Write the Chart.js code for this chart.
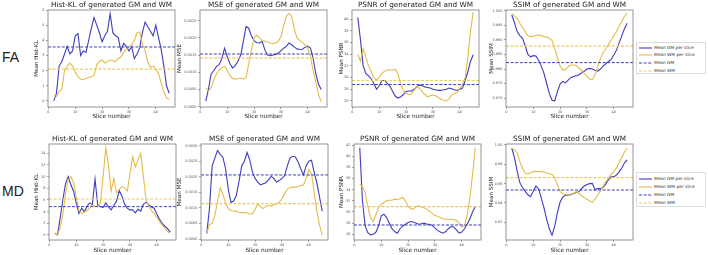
<!DOCTYPE html>
<html>
<head>
<meta charset="utf-8">
<script src="https://cdn.jsdelivr.net/npm/chart.js@4.4.0/dist/chart.umd.min.js"></script>
<style>
  body { margin: 0; width: 708px; height: 255px; position: relative; background: #fff; overflow: hidden; }
  canvas { position: absolute; }
  .rowLabel { position: absolute; font-family: "Liberation Sans", sans-serif; font-size: 14px; color: #222; }
  .legend { position: absolute; left: 636px; width: 70px; border: 1px solid #ddd; background: #fff;
            font-family: "DejaVu Sans", sans-serif; font-size: 4.3px; color: #333; box-sizing: border-box; }
  .legend .item { position: absolute; left: 0; height: 6px; line-height: 6px; white-space: nowrap; }
  .legend svg { position: absolute; left: 2px; top: 2px; }
  .legend span { position: absolute; left: 17px; top: 0; }
</style>
</head>
<body>
<div class="rowLabel" style="left:2px; top:49px;">FA</div>
<div class="rowLabel" style="left:2px; top:183px;">MD</div>
<div id="legendFA" class="legend" style="top:42px; height:32px;"></div>
<div id="legendMD" class="legend" style="top:172px; height:35px;"></div>

<script>
// ---------- datos ----------
const slices = [2,3,4,5,6,7,8,9,10,11,12,13,14,15,16,17,18,19,20,21,22,23,24,25,26,27,28,29,30,31,32,33,34,35,36,37,38,39,40,41,42,43,44,45];
const xTicks = [0, 10, 20, 30, 40];
const legendLabels = ['Mean GM per slice', 'Mean WM per slice', 'Mean GM', 'Mean WM'];

// FA
const faHistGM = [0.0,0.5,2.3,2.6,3.1,3.6,3.1,3.3,4.3,4.45,3.0,3.3,3.2,4.0,4.8,5.5,5.0,4.5,3.9,4.3,4.6,5.75,4.5,4.3,4.2,3.3,3.8,3.6,3.3,3.6,2.8,3.1,3.5,4.5,5.2,4.9,4.6,4.3,5.0,4.2,3.4,2.3,1.0,0.5];
const faHistWM = [0.4,0.3,0.6,0.8,2.0,2.3,2.5,2.3,1.9,1.6,1.45,1.4,1.5,1.55,1.6,1.7,2.4,2.6,2.7,2.5,2.6,2.7,2.65,2.6,2.8,2.9,3.2,3.4,3.6,3.7,4.0,4.5,4.55,3.8,3.3,2.6,2.2,2.3,2.1,1.8,1.2,0.6,0.2,0.1];
const faMseGM = [1.6e-4,5.0e-4,9.5e-4,10.5e-4,11.7e-4,12.2e-4,14.0e-4,17.0e-4,14.5e-4,12.5e-4,11.2e-4,12.0e-4,13.2e-4,15.0e-4,19.0e-4,23.3e-4,22.8e-4,20.5e-4,19.2e-4,18.6e-4,18.5e-4,19.0e-4,16.5e-4,15.0e-4,14.8e-4,15.0e-4,15.2e-4,15.5e-4,16.3e-4,17.0e-4,17.5e-4,18.5e-4,18.0e-4,17.3e-4,16.8e-4,16.6e-4,16.7e-4,17.3e-4,17.6e-4,17.0e-4,14.0e-4,9.5e-4,6.5e-4,5.0e-4];
const faMseWM = [5.5e-4,4.5e-4,5.5e-4,7.8e-4,9.5e-4,10.8e-4,11.3e-4,11.7e-4,10.5e-4,9.0e-4,8.2e-4,8.0e-4,8.1e-4,8.3e-4,8.0e-4,8.5e-4,12.5e-4,16.5e-4,20.0e-4,20.8e-4,20.0e-4,19.2e-4,19.0e-4,18.8e-4,18.5e-4,18.3e-4,18.5e-4,19.0e-4,20.4e-4,23.5e-4,26.3e-4,27.1e-4,26.2e-4,22.5e-4,20.0e-4,19.2e-4,18.7e-4,18.0e-4,17.0e-4,14.5e-4,10.5e-4,7.0e-4,3.5e-4,1.5e-4];
const faPsnrGM = [40.3,36.5,32.0,30.7,30.3,29.8,29.0,28.0,28.6,29.5,29.5,29.0,28.5,27.6,26.8,26.5,26.7,27.1,27.6,27.7,27.7,28.0,28.4,28.7,28.6,28.4,28.3,28.2,28.0,27.9,27.8,27.8,27.9,28.0,28.2,28.1,27.9,27.8,28.0,28.2,29.5,31.0,32.8,33.9];
const faPsnrWM = [34.0,32.8,34.9,33.5,32.0,31.0,30.0,29.6,30.0,30.7,31.1,31.3,31.3,31.3,31.4,30.6,28.8,27.8,27.3,27.1,27.2,27.8,28.5,28.1,27.6,27.1,26.7,26.9,27.0,26.9,26.6,26.3,26.1,26.0,26.4,27.0,27.3,27.4,28.2,28.8,30.0,33.5,38.0,41.2];
const faSsimGM = [0.9986,0.9960,0.9929,0.9915,0.9906,0.9880,0.9850,0.9842,0.9846,0.9845,0.9830,0.9810,0.9785,0.9750,0.9715,0.9692,0.9690,0.9722,0.9748,0.9757,0.9752,0.9762,0.9770,0.9774,0.9777,0.9780,0.9786,0.9792,0.9800,0.9802,0.9800,0.9796,0.9793,0.9800,0.9810,0.9818,0.9826,0.9833,0.9848,0.9865,0.9890,0.9915,0.9940,0.9958];
const faSsimWM = [0.9990,0.9983,0.9975,0.9958,0.9943,0.9928,0.9915,0.9911,0.9913,0.9915,0.9917,0.9915,0.9912,0.9910,0.9906,0.9898,0.9870,0.9838,0.9810,0.9797,0.9797,0.9808,0.9814,0.9814,0.9812,0.9803,0.9794,0.9785,0.9775,0.9765,0.9764,0.9780,0.9810,0.9835,0.9855,0.9870,0.9885,0.9900,0.9915,0.9929,0.9948,0.9965,0.9982,0.9993];
// medias: Hist-KL, MSE, PSNR, SSIM
const faMeanGM = [3.56, 15.3e-4, 28.8, 0.9822];
const faMeanWM = [2.1, 14.1e-4, 29.5, 0.9879];

// MD
const mdHistGM = [0.3,0.0,2.9,6.0,8.8,10.0,8.6,7.5,5.5,3.7,4.6,4.0,4.9,5.5,5.2,9.6,5.1,4.9,4.7,5.5,4.8,4.3,5.1,5.8,7.6,6.7,5.3,4.6,4.3,4.3,3.8,4.4,4.1,5.3,5.6,5.2,4.8,4.6,3.6,2.7,2.0,1.5,1.1,0.5];
const mdHistWM = [0.3,0.0,1.2,3.5,7.0,9.5,10.0,9.0,6.5,4.2,3.7,3.9,4.2,4.6,5.1,4.9,5.0,5.5,10.0,15.0,12.0,7.5,9.7,7.2,7.8,8.3,8.1,7.5,10.5,13.4,11.7,12.8,14.0,10.0,6.0,5.0,4.2,3.7,3.0,2.3,1.7,1.2,0.6,0.3];
const mdMseGM = [1.8e-4,9.8e-4,23.5e-4,26.0e-4,28.5e-4,27.2e-4,26.3e-4,22.6e-4,16.0e-4,11.8e-4,12.2e-4,14.0e-4,18.5e-4,23.5e-4,25.0e-4,27.8e-4,25.5e-4,21.5e-4,19.5e-4,18.3e-4,17.4e-4,17.8e-4,18.1e-4,19.0e-4,20.2e-4,19.4e-4,18.3e-4,18.8e-4,19.5e-4,20.4e-4,23.5e-4,26.0e-4,26.6e-4,26.4e-4,24.8e-4,22.6e-4,20.6e-4,23.5e-4,25.0e-4,25.3e-4,21.5e-4,18.0e-4,13.5e-4,9.0e-4];
const mdMseWM = [1.8e-4,4.7e-4,5.0e-4,7.5e-4,12.0e-4,16.4e-4,14.5e-4,11.5e-4,9.8e-4,9.2e-4,9.0e-4,8.9e-4,8.6e-4,8.5e-4,8.5e-4,8.4e-4,8.0e-4,8.2e-4,9.5e-4,11.4e-4,10.4e-4,9.8e-4,10.5e-4,10.8e-4,10.6e-4,11.0e-4,11.3e-4,11.8e-4,13.0e-4,14.6e-4,16.0e-4,16.6e-4,16.7e-4,16.7e-4,16.9e-4,17.2e-4,17.4e-4,19.5e-4,22.4e-4,21.0e-4,15.0e-4,9.0e-4,4.5e-4,1.3e-4];
const mdPsnrGM = [41.5,32.0,27.5,26.3,25.9,26.0,26.4,27.5,29.3,29.6,29.0,28.0,27.0,26.5,26.2,27.0,27.5,27.8,28.1,28.3,28.2,28.0,27.8,27.9,28.0,27.8,27.8,27.6,27.1,26.7,26.4,26.2,26.5,27.0,27.4,27.3,26.8,26.2,26.4,27.0,27.8,28.8,30.0,31.0];
const mdPsnrWM = [35.0,34.5,33.5,31.0,29.0,28.3,29.5,30.8,31.4,31.7,32.0,32.1,32.1,32.3,32.2,32.4,32.6,32.0,31.0,30.6,30.5,31.0,31.1,30.9,30.7,30.5,30.1,29.7,29.4,29.2,29.0,28.8,28.7,28.7,28.7,28.6,28.5,28.0,27.3,27.5,29.5,32.5,36.6,41.5];
const mdSsimGM = [0.9966,0.9870,0.9730,0.9610,0.9560,0.9520,0.9485,0.9465,0.9520,0.9575,0.9545,0.9450,0.9350,0.9230,0.9130,0.9067,0.9160,0.9300,0.9410,0.9460,0.9480,0.9482,0.9485,0.9498,0.9508,0.9516,0.9550,0.9575,0.9590,0.9600,0.9603,0.9535,0.9550,0.9548,0.9560,0.9595,0.9640,0.9670,0.9670,0.9690,0.9722,0.9765,0.9815,0.9845];
const mdSsimWM = [0.9970,0.9950,0.9920,0.9830,0.9760,0.9706,0.9700,0.9712,0.9724,0.9727,0.9726,0.9724,0.9718,0.9710,0.9703,0.9695,0.9660,0.9590,0.9520,0.9495,0.9490,0.9490,0.9490,0.9500,0.9516,0.9500,0.9475,0.9455,0.9440,0.9420,0.9406,0.9440,0.9480,0.9525,0.9570,0.9618,0.9660,0.9696,0.9725,0.9760,0.9820,0.9870,0.9930,0.9968];
const mdMeanGM = [4.86, 20.6e-4, 27.67, 0.9534];
const mdMeanWM = [6.17, 11.4e-4, 30.95, 0.9662];

// marcas del eje y
const histTicksFA = [0, 1, 2, 3, 4, 5, 6];
const mseTicksFA = [0, 0.0005, 0.0010, 0.0015, 0.0020, 0.0025];
const psnrTicksFA = [26, 28, 30, 32, 34, 36, 38, 40];
const ssimTicksFA = [0.970, 0.975, 0.980, 0.985, 0.990, 0.995, 1.000];
const histTicksMD = [0, 2, 4, 6, 8, 10, 12, 14];
const mseTicksMD = [0, 0.0005, 0.0010, 0.0015, 0.0020, 0.0025, 0.0030];
const psnrTicksMD = [26, 28, 30, 32, 34, 36, 38, 40, 42];
const ssimTicksMD = [0.92, 0.94, 0.96, 0.98, 1.00];

// ---------- estilos ----------
const BLUE = '#3d3dbd';
const YELLOW = '#e2bd4a';
const YELLOW_MEAN = '#e8cb66';
const X_MIN = -0.15, X_MAX = 47.15;
const PLOT_W = 127, Y_AXIS_W = 36, TITLE_H = 12, X_AXIS_H = 16;

Chart.defaults.font.family = '"DejaVu Sans", sans-serif';

const panels = [
  { left: 48,  top: 10,  bottom: 107, title: 'Hist-KL of generated GM and WM', yLabel: 'Mean Hist-KL', yMin: -0.4,    yMax: 6.0,     yTicks: histTicksFA, dec: 0, gm: faHistGM, wm: faHistWM, mGM: faMeanGM[0], mWM: faMeanWM[0], yPad: 21.6, xPad: 2.6 },
  { left: 200, top: 10,  bottom: 107, title: 'MSE of generated GM and WM',     yLabel: 'Mean MSE',     yMin: -0.00001, yMax: 0.00281, yTicks: mseTicksFA,  dec: 4, gm: faMseGM,  wm: faMseWM,  mGM: faMeanGM[1], mWM: faMeanWM[1], yPad: 12.6, xPad: 2.6 },
  { left: 352, top: 10,  bottom: 107, title: 'PSNR of generated GM and WM',    yLabel: 'Mean PSNR',    yMin: 24.96,   yMax: 41.57,   yTicks: psnrTicksFA, dec: 0, gm: faPsnrGM, wm: faPsnrWM, mGM: faMeanGM[2], mWM: faMeanWM[2], yPad: 22,   xPad: 2.6 },
  { left: 506, top: 10,  bottom: 107, title: 'SSIM of generated GM and WM',    yLabel: 'Mean SSIM',    yMin: 0.9669,  yMax: 1.00034, yTicks: ssimTicksFA, dec: 3, gm: faSsimGM, wm: faSsimWM, mGM: faMeanGM[3], mWM: faMeanWM[3], yPad: 18.6, xPad: 2.6 },
  { left: 49,  top: 144, bottom: 240, title: 'Hist-KL of generated GM and WM', yLabel: 'Mean Hist-KL', yMin: -0.86,   yMax: 15.6,    yTicks: histTicksMD, dec: 0, gm: mdHistGM, wm: mdHistWM, mGM: mdMeanGM[0], mWM: mdMeanWM[0], yPad: 20.3, xPad: 1.6 },
  { left: 201, top: 144, bottom: 240, title: 'MSE of generated GM and WM',     yLabel: 'Mean MSE',     yMin: -0.00003, yMax: 0.003055, yTicks: mseTicksMD, dec: 4, gm: mdMseGM,  wm: mdMseWM,  mGM: mdMeanGM[1], mWM: mdMeanWM[1], yPad: 11.6, xPad: 1.6 },
  { left: 354, top: 144, bottom: 240, title: 'PSNR of generated GM and WM',    yLabel: 'Mean PSNR',    yMin: 24.98,   yMax: 42.18,   yTicks: psnrTicksMD, dec: 0, gm: mdPsnrGM, wm: mdPsnrWM, mGM: mdMeanGM[2], mWM: mdMeanWM[2], yPad: 20.3, xPad: 1.6 },
  { left: 506, top: 144, bottom: 240, title: 'SSIM of generated GM and WM',    yLabel: 'Mean SSIM',    yMin: 0.9017,  yMax: 1.001,   yTicks: ssimTicksMD, dec: 2, gm: mdSsimGM, wm: mdSsimWM, mGM: mdMeanGM[3], mWM: mdMeanWM[3], yPad: 18.3, xPad: 1.6 }
];

// marco completo alrededor del área (como matplotlib)
const framePlugin = {
  id: 'frame',
  afterDraw(chart) {
    const { ctx, chartArea: a } = chart;
    ctx.save();
    ctx.strokeStyle = '#7a7a7a';
    ctx.lineWidth = 0.8;
    ctx.strokeRect(a.left, a.top, a.right - a.left, a.bottom - a.top);
    ctx.restore();
  }
};

function toPoints(values) {
  return values.map((v, i) => ({ x: slices[i], y: v }));
}

function meanLine(value) {
  return [{ x: X_MIN, y: value }, { x: X_MAX, y: value }];
}

function lineSet(label, data, color, width, dash, order) {
  return {
    label: label, data: data, borderColor: color, borderWidth: width,
    borderDash: dash, pointRadius: 0, tension: 0, fill: false, order: order
  };
}

function crearPanel(p) {
  const canvas = document.createElement('canvas');
  const w = Y_AXIS_W + PLOT_W + 2;
  const h = TITLE_H + (p.bottom - p.top) + X_AXIS_H;
  canvas.width = w;
  canvas.height = h;
  canvas.style.left = (p.left - Y_AXIS_W) + 'px';
  canvas.style.top = (p.top - TITLE_H) + 'px';
  document.body.appendChild(canvas);

  new Chart(canvas.getContext('2d'), {
    type: 'line',
    data: {
      datasets: [
        lineSet(legendLabels[0], toPoints(p.gm), BLUE, 1.1, [], 4),
        lineSet(legendLabels[1], toPoints(p.wm), YELLOW, 1.1, [], 3),
        lineSet(legendLabels[2], meanLine(p.mGM), BLUE, 1, [3, 1.6], 2),
        lineSet(legendLabels[3], meanLine(p.mWM), YELLOW_MEAN, 1.2, [3, 1.6], 1)
      ]
    },
    options: {
      responsive: false,
      animation: false,
      devicePixelRatio: 1,
      layout: { padding: { left: 0, right: 2, top: 0, bottom: 0 } },
      plugins: {
        legend: { display: false },
        tooltip: { enabled: false },
        title: {
          display: true, text: p.title, fullSize: false, color: '#222',
          font: { size: 7.3, weight: 'normal', lineHeight: '10px' },
          padding: { top: 2, bottom: 0 }
        }
      },
      scales: {
        x: {
          type: 'linear', min: X_MIN, max: X_MAX,
          afterBuildTicks: s => { s.ticks = xTicks.map(v => ({ value: v })); },
          afterFit: s => { s.height = X_AXIS_H; },
          border: { display: false },
          grid: { drawOnChartArea: false, drawTicks: true, tickLength: 2, color: '#666', lineWidth: 0.6 },
          ticks: { font: { size: 3.5 }, color: '#555', padding: 1, maxRotation: 0, autoSkip: false,
                   callback: v => String(v) },
          title: { display: true, text: 'Slice number', color: '#222',
                   font: { size: 5.8 }, padding: { top: 0, bottom: p.xPad } }
        },
        y: {
          type: 'linear', min: p.yMin, max: p.yMax,
          afterBuildTicks: s => { s.ticks = p.yTicks.map(v => ({ value: v })); },
          afterFit: s => { s.width = Y_AXIS_W; },
          border: { display: false },
          grid: { drawOnChartArea: false, drawTicks: true, tickLength: 2, color: '#666', lineWidth: 0.6 },
          ticks: { font: { size: 3.5 }, color: '#555', padding: 1.5, autoSkip: false,
                   callback: v => Number(v).toFixed(p.dec) },
          title: { display: true, text: p.yLabel, color: '#222',
                   font: { size: 5.6 }, padding: { top: p.yPad, bottom: 0 } }
        }
      }
    },
    plugins: [framePlugin]
  });
}

panels.forEach(crearPanel);

// ---------- leyendas ----------
const legendStyles = [
  { color: BLUE, dash: '' },
  { color: YELLOW, dash: '' },
  { color: BLUE, dash: '3,1.6' },
  { color: YELLOW_MEAN, dash: '3,1.6' }
];

function crearLeyenda(id, firstY, step) {
  const box = document.getElementById(id);
  legendLabels.forEach((txt, i) => {
    const item = document.createElement('div');
    item.className = 'item';
    item.style.top = (firstY + i * step) + 'px';
    const st = legendStyles[i];
    item.innerHTML =
      '<svg width="13" height="2"><line x1="0" y1="1" x2="13" y2="1" stroke="' + st.color +
      '" stroke-width="1.1" stroke-dasharray="' + st.dash + '"/></svg><span>' + txt + '</span>';
    box.appendChild(item);
  });
}

crearLeyenda('legendFA', 1.5, 7.8);
crearLeyenda('legendMD', 3.3, 8.0);
</script>
</body>
</html>
